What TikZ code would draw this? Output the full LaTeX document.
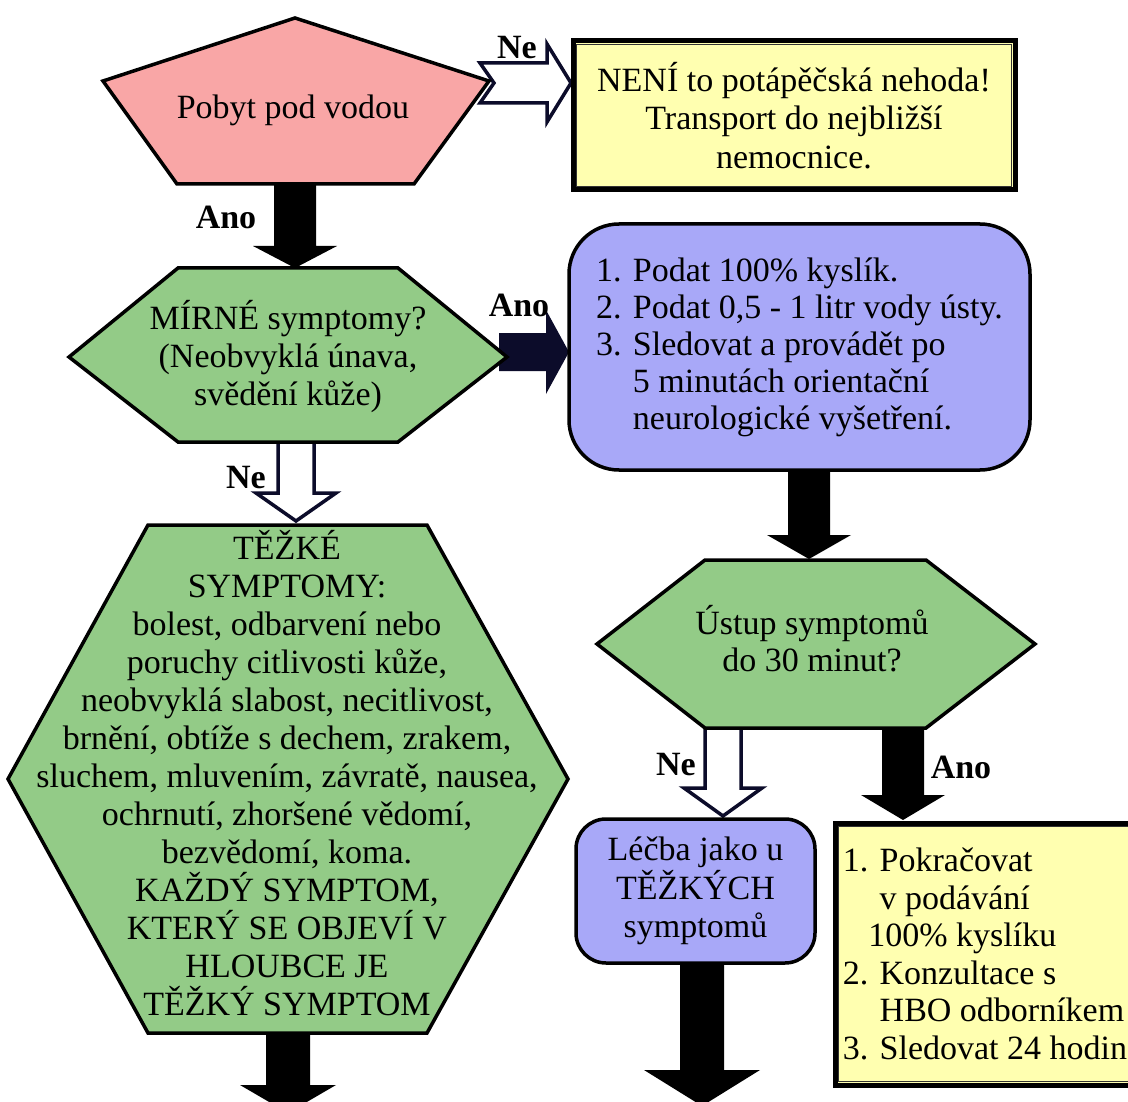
\documentclass[tikz,border=0pt]{standalone}
\usepackage{fontspec}
\setmainfont{Liberation Serif}
\usetikzlibrary{calc}
\definecolor{pinkfill}{HTML}{F9A6A6}
\definecolor{greenfill}{HTML}{93CB87}
\definecolor{purplefill}{HTML}{A8A8F8}
\definecolor{yellowfill}{HTML}{FFFFB0}
\definecolor{navy}{HTML}{0C0C2A}
\newcommand\vdownarrow[6]{%
  \path[#1] let \p1=(#2), \p2=(#3) in
    (\x2-#4pt,\y1) -- (\x2+#4pt,\y1) -- (\x2+#4pt,\y2+#6pt) -- (\x2+#5pt,\y2+#6pt)
    -- (\x2,\y2) -- (\x2-#5pt,\y2+#6pt) -- (\x2-#4pt,\y2+#6pt) -- cycle;}
\newcommand\hrightarrow[6]{%
  \path[#1] let \p1=(#2), \p2=(#3) in
    (\x1,\y2+#4pt) -- (\x2-#6pt,\y2+#4pt) -- (\x2-#6pt,\y2+#5pt) -- (\x2,\y2)
    -- (\x2-#6pt,\y2-#5pt) -- (\x2-#6pt,\y2-#4pt) -- (\x1,\y2-#4pt) -- cycle;}
\begin{document}
\begin{tikzpicture}[x=1pt,y=-1pt,
  shapeline/.style={draw=black, line width=3.5pt, line join=miter},
  bodytext/.style={inner sep=0pt, align=center, font=\fontsize{34}{38}\selectfont},
  lbl/.style={inner sep=0pt, font=\bfseries\fontsize{34}{38}\selectfont},
  solidblk/.style={fill=black},
  solidnavy/.style={fill=navy},
  hollow/.style={draw=navy, fill=white, line width=3.5pt, line join=miter},
  ybox/.style={draw=black, fill=yellowfill, line width=5pt, inner sep=0pt, align=center, font=\fontsize{34}{38.5}\selectfont},
  yinner/.style={draw=black!80, line width=1.2pt},
  pbox/.style={draw=black, fill=purplefill, line width=3.5pt, inner sep=0pt, font=\fontsize{34}{37}\selectfont},
]
\useasboundingbox (0,0) rectangle (1128,1102);
\clip (0,0) rectangle (1128,1102);
\fill[white] (0,0) rectangle (1128,1102);

% shape vertices
\coordinate (pT) at (295,18);
\coordinate (pR) at (489,81);
\coordinate (pBR) at (414,184);
\coordinate (pBL) at (177,184);
\coordinate (pL) at (103,81);
\coordinate (pS) at (295,184);

\coordinate (h1TL) at (178,268);
\coordinate (h1TR) at (398,268);
\coordinate (h1R) at (507,357);
\coordinate (h1BR) at (398,442);
\coordinate (h1BL) at (178,442);
\coordinate (h1L) at (69,357);
\coordinate (h1top) at (295,268);
\coordinate (h1bot) at (296,442);
\coordinate (h1out) at (499,353);

\coordinate (h3TL) at (148,525);
\coordinate (h3TR) at (427,525);
\coordinate (h3R) at (568,779);
\coordinate (h3BR) at (427,1033);
\coordinate (h3BL) at (148,1033);
\coordinate (h3L) at (8,779);
\coordinate (h3top) at (296,521);
\coordinate (h3bot) at (288,1033);
\coordinate (endL) at (288,1113);

\coordinate (h2TL) at (705,560);
\coordinate (h2TR) at (926,560);
\coordinate (h2R) at (1035,644);
\coordinate (h2BR) at (926,728);
\coordinate (h2BL) at (705,728);
\coordinate (h2L) at (597,644);
\coordinate (h2top) at (809,559);
\coordinate (h2ne) at (723,728);
\coordinate (h2ano) at (903,728);

\coordinate (y1in) at (571,83);
\coordinate (b1in) at (569,352);
\coordinate (b1out) at (809,470);
\coordinate (b2in) at (723,816);
\coordinate (b2out) at (702,962);
\coordinate (y2in) at (903,820);
\coordinate (endR) at (702,1106);

% arrows
\vdownarrow{solidblk}{pS}{h1top}{21}{42}{22}
\hrightarrow{solidnavy}{h1out}{b1in}{19}{42}{23}
\vdownarrow{hollow}{h1bot}{h3top}{18}{40}{28}
\vdownarrow{solidblk}{h3bot}{endL}{22}{48}{28}
\vdownarrow{solidblk}{b1out}{h2top}{21}{42}{24}
\vdownarrow{hollow}{h2ne}{b2in}{18}{39}{28}
\vdownarrow{solidblk}{h2ano}{y2in}{21}{42}{25}
\vdownarrow{solidblk}{b2out}{endR}{22}{58}{36}
\path[hollow] let \p1=(pR), \p2=(y1in) in
  (\x1-9pt,\y2+20pt) -- (\x2-24pt,\y2+20pt) -- (\x2-24pt,\y2+39pt) -- (\x2,\y2)
  -- (\x2-24pt,\y2-39pt) -- (\x2-24pt,\y2-20pt) -- (\x1-9pt,\y2-20pt) -- (\x1+5pt,\y2) -- cycle;

% shapes
\draw[shapeline, fill=pinkfill] (pT) -- (pR) -- (pBR) -- (pBL) -- (pL) -- cycle;
\node[bodytext] (pobyt) at (293,110) {Pobyt pod vodou};

\node[ybox, minimum width=442pt, minimum height=149pt] (y1) at (794,115.5)
  {NENÍ to potápěčská nehoda!\\Transport do nejbližší\\nemocnice.};
\draw[yinner] ($(y1.north west)+(6,6)$) rectangle ($(y1.south east)+(-6,-6)$);

\draw[shapeline, fill=greenfill] (h1TL) -- (h1TR) -- (h1R) -- (h1BR) -- (h1BL) -- (h1L) -- cycle;
\node[bodytext] (mirne) at (288,357) {MÍRNÉ symptomy?\\(Neobvyklá únava,\\svědění kůže)};

\node[pbox, rounded corners=50pt, minimum width=461pt, minimum height=246pt, align=left] (b1) at (799.5,347)
  {1. Podat 100\% kyslík.\\2. Podat 0,5 - 1 litr vody ústy.\\3. Sledovat a provádět po\\\phantom{3. }5 minutách orientační\\\phantom{3. }neurologické vyšetření.};

\draw[shapeline, fill=greenfill] (h3TL) -- (h3TR) -- (h3R) -- (h3BR) -- (h3BL) -- (h3L) -- cycle;
\node[bodytext] (tezke) at (287,773)
  {TĚŽKÉ\\SYMPTOMY:\\bolest, odbarvení nebo\\poruchy citlivosti kůže,\\neobvyklá slabost, necitlivost,\\brnění, obtíže s dechem, zrakem,\\sluchem, mluvením, závratě, nausea,\\ochrnutí, zhoršené vědomí,\\bezvědomí, koma.\\KAŽDÝ SYMPTOM,\\KTERÝ SE OBJEVÍ V\\HLOUBCE JE\\TĚŽKÝ SYMPTOM};

\draw[shapeline, fill=greenfill] (h2TL) -- (h2TR) -- (h2R) -- (h2BR) -- (h2BL) -- (h2L) -- cycle;
\node[bodytext, font=\fontsize{34}{37}\selectfont] (ustup) at (812,639) {Ústup symptomů\\do 30 minut?};

\node[pbox, rounded corners=30pt, minimum width=239pt, minimum height=144pt, align=center, font=\fontsize{34}{38.5}\selectfont] (b2) at (695.5,891)
  {Léčba jako u\\TĚŽKÝCH\\symptomů};

\node[ybox, minimum width=300pt, minimum height=262pt, align=left, font=\fontsize{34}{37.5}\selectfont] (y2) at (985,954)
  {1. Pokračovat\\\phantom{1. }v podávání\\\phantom{1.}100\% kyslíku\\2. Konzultace s\\\phantom{2. }HBO odborníkem\\3. Sledovat 24 hodin};
\draw[yinner] ($(y2.north west)+(6,6)$) rectangle ($(y2.south east)+(-6,-6)$);

% labels
\node[lbl] (lNe1) at (517,48) {Ne};
\node[lbl] (lAno1) at (226,217) {Ano};
\node[lbl] (lAno2) at (519,305) {Ano};
\node[lbl] (lNe2) at (246,478) {Ne};
\node[lbl] (lNe3) at (676,765) {Ne};
\node[lbl] (lAno3) at (961,767) {Ano};
\end{tikzpicture}
\end{document}
